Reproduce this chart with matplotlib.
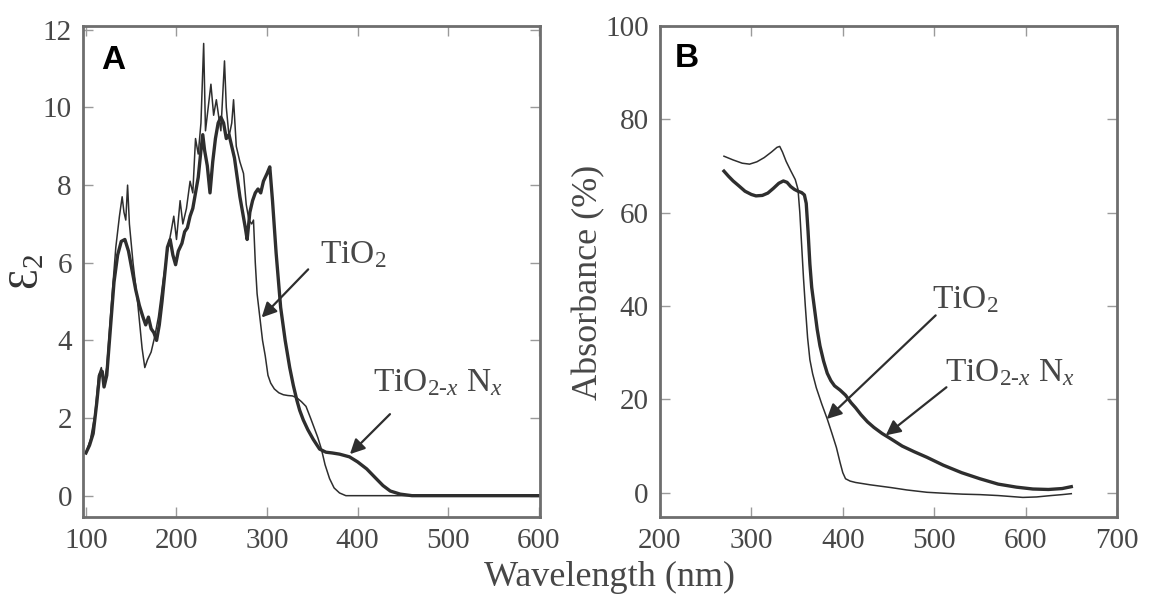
import matplotlib
matplotlib.use('Agg')
import matplotlib.pyplot as plt

plt.rcParams['font.family'] = ['Liberation Serif', 'DejaVu Serif']
plt.rcParams['mathtext.fontset'] = 'custom'
plt.rcParams['mathtext.rm'] = 'Liberation Serif'
plt.rcParams['mathtext.it'] = 'Liberation Serif:italic'

# panel A: imaginary dielectric function
a_tio2_nm = [100, 105, 110, 114, 117, 120, 123, 128, 133, 137, 140, 142, 144, 146, 148, 152, 157,
             162, 165, 168, 172, 176, 180, 185, 190, 194, 197, 200, 204, 207, 211, 215, 218, 221,
             224, 227, 230, 232, 235, 238, 241, 244, 247, 249, 251, 253, 255, 258, 261, 263, 266,
             270, 274, 277, 280, 283, 285, 287, 289, 292, 295, 298, 301, 304, 308, 313, 318, 323,
             328, 333, 338, 343, 348, 352, 356, 360, 364, 369, 374, 380, 387, 600]
a_tio2_eps = [1.1, 1.45, 2.1, 3.1, 3.3, 2.9, 3.3, 4.9, 6.4, 7.2, 7.7, 7.3, 7.1, 8.0, 7.0, 6.0, 5.0,
              3.8, 3.3, 3.5, 3.7, 4.1, 4.6, 5.5, 6.3, 6.8, 7.2, 6.6, 7.6, 7.0, 7.4, 8.1, 7.8, 9.2,
              8.8, 9.6, 11.65, 9.4, 10.0, 10.6, 9.8, 10.2, 9.7, 9.4, 10.3, 11.2, 10.0, 9.25, 9.6,
              10.2, 9.0, 8.6, 8.3, 7.5, 7.1, 7.0, 7.1, 6.0, 5.2, 4.6, 4.0, 3.6, 3.1, 2.9, 2.75,
              2.65, 2.6, 2.58, 2.57, 2.52, 2.42, 2.3, 2.0, 1.75, 1.5, 1.2, 0.8, 0.44, 0.2, 0.07,
              0.0, 0.0]

a_tion_nm = [100, 104, 108, 112, 115, 118, 120, 123, 127, 131, 135, 139, 143, 147, 151, 155, 159,
             163, 166, 169, 172, 175, 178, 181, 184, 187, 190, 193, 196, 199, 202, 206, 209, 212,
             215, 218, 221, 224, 227, 229, 231, 234, 237, 240, 243, 246, 249, 252, 255, 258, 261,
             264, 267, 270, 273, 276, 278, 281, 284, 287, 290, 293, 296, 300, 303, 306, 310, 315,
             320, 325, 329, 333, 336, 340, 345, 351, 358, 365, 372, 380, 391, 400, 410, 420, 428,
             436, 447, 460, 600]
a_tion_eps = [1.1, 1.3, 1.6, 2.4, 3.1, 3.2, 2.8, 3.1, 4.3, 5.5, 6.2, 6.55, 6.6, 6.3, 5.8, 5.3, 4.9,
              4.6, 4.4, 4.6, 4.3, 4.2, 4.0, 4.4, 5.0, 5.7, 6.4, 6.6, 6.2, 5.95, 6.3, 6.5, 6.8, 6.9,
              7.2, 7.4, 7.8, 8.2, 8.9, 9.3, 8.9, 8.5, 7.8, 8.6, 9.2, 9.6, 9.75, 9.6, 9.2, 9.3, 9.0,
              8.7, 8.2, 7.7, 7.3, 6.9, 6.6, 7.3, 7.6, 7.8, 7.9, 7.8, 8.1, 8.3, 8.47, 7.6, 6.25,
              4.85, 4.0, 3.3, 2.84, 2.45, 2.2, 1.95, 1.7, 1.45, 1.2, 1.12, 1.1, 1.07, 1.0, 0.87,
              0.69, 0.45, 0.26, 0.12, 0.04, 0.0, 0.0]

# panel B: absorbance
b_tio2_nm = [270, 280, 290, 298, 306, 314, 322, 328, 331, 334, 338, 343, 348, 351, 353, 355, 357,
             359, 361.5, 364, 367, 371, 377, 383, 388, 393, 397, 400, 403, 408, 414, 430, 453, 470,
             492, 510, 531, 550, 570, 597, 612, 628, 640, 650]
b_tio2_abs = [72.1, 71.3, 70.6, 70.4, 70.9, 71.8, 73.0, 74.0, 74.2, 73.0, 71.0, 69.0, 67.1, 65.0,
              60.0, 53.0, 46.0, 40.0, 33.2, 28.5, 25.5, 22.5, 19.0, 15.8, 12.8, 9.7, 6.5, 4.3, 3.0,
              2.5, 2.2, 1.7, 1.1, 0.6, 0.1, -0.1, -0.3, -0.4, -0.6, -1.0, -0.9, -0.6, -0.4, -0.2]

b_tion_nm = [270, 275, 280, 286, 293, 300, 305, 312, 318, 324, 330, 335, 339, 343, 347, 351, 355,
             358, 360, 362, 364, 366, 369, 372, 375, 379, 383, 387, 391, 397, 403, 409, 414, 420,
             427, 434, 443, 453, 465, 478, 492, 510, 530, 550, 570, 590, 608, 625, 640, 650]
b_tion_abs = [68.9, 67.8, 66.8, 65.8, 64.6, 63.9, 63.6, 63.7, 64.2, 65.2, 66.3, 66.8, 66.5, 65.6,
              65.0, 64.6, 64.3, 63.8, 62.0, 56.0, 49.0, 44.0, 39.5, 35.0, 31.5, 28.2, 25.6, 24.0,
              22.9, 22.0, 20.9, 19.3, 18.2, 16.7, 15.2, 14.0, 12.7, 11.5, 10.0, 8.8, 7.6, 5.9,
              4.3, 3.0, 1.85, 1.2, 0.8, 0.7, 0.9, 1.3]

a_xticks = [100, 200, 300, 400, 500, 600]
a_yticks = [0, 2, 4, 6, 8, 10, 12]
b_xticks = [200, 300, 400, 500, 600, 700]
b_yticks = [0, 20, 40, 60, 80, 100]

line_c = '#2e2e2e'
text_c = '#474747'
frame_c = '#6e6e6e'
label_tio2 = 'TiO$_2$'
label_tion = 'TiO$_{2\u2010x}$ N$_x$'

fig = plt.figure(figsize=(11.5, 6), dpi=100)
ax1 = fig.add_axes([0.0722, 0.1383, 0.3974, 0.8184])
ax2 = fig.add_axes([0.5739, 0.1383, 0.3974, 0.8184])

ax1.plot(a_tio2_nm, a_tio2_eps, color=line_c, lw=1.1)
ax1.plot(a_tion_nm, a_tion_eps, color=line_c, lw=2.4)
ax2.plot(b_tio2_nm, b_tio2_abs, color=line_c, lw=1.1)
ax2.plot(b_tion_nm, b_tion_abs, color=line_c, lw=2.4)

ax1.set_xlim(96.8, 601.4)
ax1.set_ylim(-0.55, 12.1)
ax1.set_xticks(a_xticks)
ax1.set_yticks(a_yticks)
ax2.set_xlim(200, 700)
ax2.set_ylim(-5.2, 100)
ax2.set_xticks(b_xticks)
ax2.set_yticks(b_yticks)

for ax in (ax1, ax2):
    for s in ax.spines.values():
        s.set_color(frame_c)
        s.set_linewidth(2)
    ax.tick_params(direction='in', top=True, right=True, length=7, width=1,
                   color='#9a9a9a', labelsize=21, labelcolor=text_c, pad=8)

arrow = dict(arrowstyle='-|>', color=line_c, lw=1.6, mutation_scale=22, shrinkA=0, shrinkB=0)
ax1.annotate('', xy=(294, 4.59), xytext=(345.4, 5.83), arrowprops=arrow)
ax1.text(358, 6.2, label_tio2, fontsize=24, color=text_c, va='center')
ax1.annotate('', xy=(391.5, 1.07), xytext=(435.7, 2.1), arrowprops=arrow)
ax1.text(417, 2.9, label_tion, fontsize=24, color=text_c, va='center')

ax2.annotate('', xy=(382.5, 15.8), xytext=(501.6, 38), arrowprops=arrow)
ax2.text(498, 41.4, label_tio2, fontsize=24, color=text_c, va='center')
ax2.annotate('', xy=(447, 12.3), xytext=(513.4, 22.6), arrowprops=arrow)
ax2.text(511.5, 25.8, label_tion, fontsize=24, color=text_c, va='center')

ax1.text(0.039, 0.962, 'A', transform=ax1.transAxes, fontsize=24, fontweight='bold',
         family='Liberation Sans', va='top', ha='left', color='black')
ax2.text(0.032, 0.965, 'B', transform=ax2.transAxes, fontsize=24, fontweight='bold',
         family='Liberation Sans', va='top', ha='left', color='black')

fig.text(0.024, 0.547, 'Ɛ$_2$', rotation=90, fontsize=30, color='#333333', ha='center', va='center')
fig.text(0.512, 0.53, 'Absorbance (%)', rotation=90, fontsize=26, color=text_c, ha='center', va='center')
fig.text(0.53, 0.038, 'Wavelength (nm)', fontsize=26, color=text_c, ha='center', va='center')

fig.savefig('out.png', dpi=100, facecolor='white')
